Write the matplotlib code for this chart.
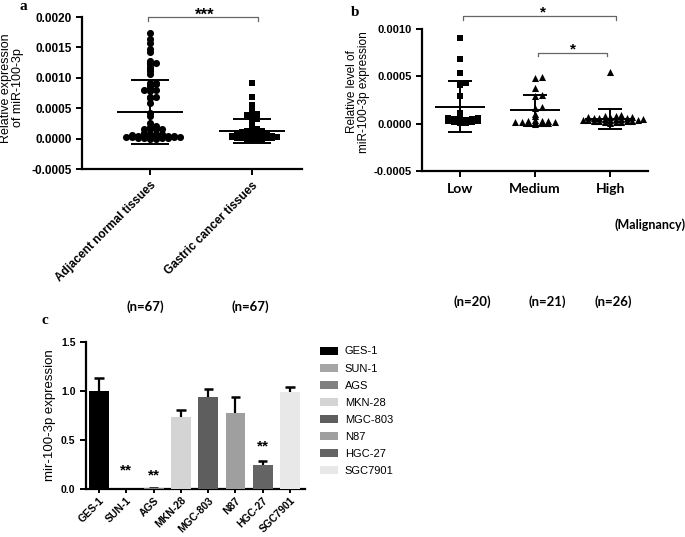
import numpy as np
import matplotlib
matplotlib.use("Agg")
import matplotlib.pyplot as plt
from matplotlib.patches import Patch

plt.rcParams['font.family'] = 'Liberation Sans'

# ---- panel a data ----
a_groups = ['Adjacent normal tissues', 'Gastric cancer tissues']
a_n = ['(n=67)', '(n=67)']
adjacent = [0.00173, 0.00164, 0.00158, 0.00147, 0.00143, 0.00127, 0.00125, 0.00124,
            0.00123, 0.00117, 0.00114, 0.00112, 0.00106, 0.00092, 0.00092, 0.00090,
            0.00090, 0.00086, 0.00084, 0.00080, 0.00080, 0.00079, 0.00069, 0.00068,
            0.00067, 0.00058, 0.00042, 0.00037, 0.00025, 0.00020, 0.00019, 0.00016,
            0.00015, 0.00015, 0.00015,
            0.00009, 0.00008, 0.00008, 0.00007, 0.00007, 0.00006, 0.00006, 0.00006,
            0.00005, 0.00005, 0.00005, 0.00005, 0.00004, 0.00004, 0.00004, 0.00004,
            0.00003, 0.00003, 0.00003, 0.00003, 0.00003, 0.00002, 0.00002, 0.00002,
            0.00002, 0.00002, 0.00001, 0.00001, 0.00001, 0.00001, 0.00000, 0.00000]
gastric = [0.00091, 0.00069, 0.00056, 0.00053, 0.00049, 0.00040, 0.00039, 0.00038,
           0.00038, 0.00037, 0.00033, 0.00033, 0.00030, 0.00027, 0.00025, 0.00020,
           0.00015, 0.00014, 0.00013, 0.00013, 0.00012, 0.00012, 0.00011, 0.00011,
           0.00010, 0.00010, 0.00010, 0.00009, 0.00009, 0.00009, 0.00008, 0.00008,
           0.00008, 0.00007, 0.00007, 0.00007, 0.00006, 0.00006, 0.00006, 0.00006,
           0.00005, 0.00005, 0.00005, 0.00005, 0.00004, 0.00004, 0.00004, 0.00004,
           0.00004, 0.00003, 0.00003, 0.00003, 0.00003, 0.00003, 0.00002, 0.00002,
           0.00002, 0.00002, 0.00002, 0.00001, 0.00001, 0.00001, 0.00001, 0.00000,
           0.00000, 0.00000, 0.00000]
a_mean = [0.00044, 0.00012]
a_sd = [0.00053, 0.00020]

# ---- panel b data ----
b_groups = ['Low', 'Medium', 'High']
b_n = ['(n=20)', '(n=21)', '(n=26)']
low = [0.00090, 0.00068, 0.00053, 0.00043, 0.00041, 0.00029, 0.00011, 0.00007,
       0.00006, 0.00006, 0.00005, 0.00005, 0.00004, 0.00004, 0.00003, 0.00003,
       0.00002, 0.00002, 0.00001, 0.00001]
medium = [0.00049, 0.00048, 0.00038, 0.00030, 0.00029, 0.00018, 0.00017, 0.00010,
          0.00008, 0.00004, 0.00003, 0.00003, 0.00003, 0.00002, 0.00002, 0.00002,
          0.00002, 0.00001, 0.00001, 0.00001, 0.00000]
high = [0.00055, 0.00009, 0.00008, 0.00008, 0.00007, 0.00007, 0.00007, 0.00006,
        0.00006, 0.00006, 0.00005, 0.00005, 0.00005, 0.00005, 0.00004, 0.00004,
        0.00004, 0.00004, 0.00003, 0.00003, 0.00003, 0.00003, 0.00002, 0.00002,
        0.00002, 0.00001]
b_mean = [0.00018, 0.00014, 0.00005]
b_sd = [0.00027, 0.00016, 0.00011]

# ---- panel c data ----
cells = ['GES-1', 'SUN-1', 'AGS', 'MKN-28', 'MGC-803', 'N87', 'HGC-27', 'SGC7901']
expr = [1.00, 0.005, 0.008, 0.73, 0.94, 0.78, 0.25, 0.99]
expr_err = [0.13, 0.0, 0.005, 0.08, 0.08, 0.16, 0.04, 0.05]
cell_colors = ['#000000', '#a6a6a6', '#808080', '#d4d4d4', '#5e5e5e', '#9f9f9f',
               '#646464', '#e8e8e8']
c_stars = {'SUN-1': 0.19, 'AGS': 0.14, 'HGC-27': 0.43}

W, H = 685, 537
fig = plt.figure(figsize=(W / 100, H / 100), dpi=100)


def px_axes(l, t, r, b):
    return fig.add_axes([l / W, 1 - b / H, (r - l) / W, (b - t) / H])


def ftext(x, y, s, **kw):
    fig.text(x / W, 1 - y / H, s, **kw)


def beeswarm(vals, ypx, xpx, dx, dy):
    # horizontal offsets (data units) so that markers do not pile up
    v = np.asarray(vals) * ypx
    offs = np.zeros(len(v))
    placed = []
    cands = [0.0]
    for s in range(1, 300):
        cands += [s * 0.5, -s * 0.5]
    for i in np.argsort(v, kind='stable'):
        for c in cands:
            if all(abs(c - px) >= dx or abs(v[i] - py) >= dy for px, py in placed):
                break
        offs[i] = c
        placed.append((c, v[i]))
    return offs / xpx


def style(ax):
    for s in ['top', 'right']:
        ax.spines[s].set_visible(False)
    for s in ['left', 'bottom']:
        ax.spines[s].set_linewidth(1.6)
    ax.tick_params(width=1.4, length=4, direction='out')


def mean_sd(ax, xs, means, sds, mw, cw):
    xs = np.asarray(xs, float)
    m = np.asarray(means)
    s = np.asarray(sds)
    ax.vlines(xs, m - s, m + s, color='black', lw=1.4, zorder=4)
    ax.hlines(m, xs - mw, xs + mw, color='black', lw=1.4, zorder=4)
    ax.hlines(m + s, xs - cw, xs + cw, color='black', lw=1.4, zorder=4)
    ax.hlines(m - s, xs - cw, xs + cw, color='black', lw=1.4, zorder=4)


# ================= panel a =================
axa = px_axes(82, 17, 302, 169)
style(axa)
ya = 152 / 0.0025
axa.scatter(0 + beeswarm(adjacent, ya, 102, 6.0, 1.0), adjacent, s=26, marker='o',
            color='black', zorder=3, linewidths=0)
axa.scatter(1 + beeswarm(gastric, ya, 102, 5.0, 1.2), gastric, s=20, marker='s',
            color='black', zorder=3, linewidths=0)
mean_sd(axa, [0, 1], a_mean, a_sd, 0.32, 0.19)
axa.set_xlim(-0.667, 1.49)
axa.set_ylim(-0.0005, 0.0020)
axa.set_yticks([-0.0005, 0.0, 0.0005, 0.0010, 0.0015, 0.0020])
axa.set_yticklabels(['-0.0005', '0.0000', '0.0005', '0.0010', '0.0015', '0.0020'],
                    fontsize=8.5, fontweight='bold')
axa.set_xticks([0, 1])
axa.set_xticklabels(a_groups, rotation=45, ha='right', va='top',
                    rotation_mode='anchor', fontsize=8.5, fontweight='bold')
axa.plot([-0.02, -0.02, 1.06, 1.06], [0.00194, 0.0020, 0.0020, 0.00194],
         color='#666666', lw=0.9, clip_on=False)
axa.text(0.54, 0.00196, '***', ha='center', va='baseline', fontsize=12,
         fontweight='bold')
ftext(12, 88, 'Relative expression\nof miR-100-3p', rotation=90, ha='center',
      va='center', fontsize=9, linespacing=1.0)
for x, s in zip([145, 250], a_n):
    ftext(x, 307, s, ha='center', va='center', fontsize=9.5, fontweight='bold',
          family='Lato')
ftext(23, 7, 'a', ha='center', va='center', fontsize=11, fontweight='bold',
      family='Liberation Serif')

# ================= panel b =================
axb = px_axes(422, 29, 648, 171)
style(axb)
yb = 142 / 0.0015
axb.scatter(0 + beeswarm(low, yb, 75, 6.0, 2.5), low, s=20, marker='s',
            color='black', zorder=3, linewidths=0)
axb.scatter(1 + beeswarm(medium, yb, 75, 6.5, 1.5), medium, s=26, marker='^',
            color='black', zorder=3, linewidths=0)
axb.scatter(2 + beeswarm(high, yb, 75, 5.5, 2.0), high, s=26, marker='^',
            color='black', zorder=3, linewidths=0)
mean_sd(axb, [0, 1, 2], b_mean, b_sd, 0.33, 0.16)
axb.set_xlim(-0.5, 2.5)
axb.set_ylim(-0.0005, 0.0010)
axb.set_yticks([-0.0005, 0.0, 0.0005, 0.0010])
axb.set_yticklabels(['-0.0005', '0.0000', '0.0005', '0.0010'], fontsize=8,
                    fontweight='bold')
axb.set_xticks([0, 1, 2])
axb.set_xticklabels(b_groups, fontsize=10, fontweight='bold', family='Lato')
axb.tick_params(axis='x', pad=5)
axb.plot([0.05, 0.05, 2.07, 2.07], [0.0011, 0.001137, 0.001137, 0.0011],
         color='#666666', lw=0.9, clip_on=False)
axb.text(1.1, 0.001137, '*', ha='center', va='baseline', fontsize=11,
         fontweight='bold')
axb.plot([1.04, 1.04, 1.96, 1.96], [0.00071, 0.000746, 0.000746, 0.00071],
         color='#666666', lw=0.9, clip_on=False)
axb.text(1.5, 0.000746, '*', ha='center', va='baseline', fontsize=11,
         fontweight='bold')
ftext(358, 92, 'Relative level of\nmiR-100-3p expression', rotation=90,
      ha='center', va='center', fontsize=8.5, linespacing=1.1)
ftext(650, 225, '(Malignancy)', ha='center', va='center', fontsize=9,
      fontweight='bold', family='Lato')
for x, s in zip([472, 547, 613], b_n):
    ftext(x, 302, s, ha='center', va='center', fontsize=9.5, fontweight='bold',
          family='Lato')
ftext(355, 12, 'b', ha='center', va='center', fontsize=11, fontweight='bold',
      family='Liberation Serif')

# ================= panel c =================
axc = px_axes(86, 342, 305, 489)
style(axc)
xc = np.arange(len(cells))
axc.bar(xc, expr, width=0.73, color=cell_colors, zorder=3)
top = np.asarray(expr) + np.asarray(expr_err)
axc.vlines(xc, expr, top, color='black', lw=1.6, zorder=2)
axc.hlines(top, xc - 0.17, xc + 0.17, color='black', lw=1.8, zorder=2)
for name, y in c_stars.items():
    axc.text(cells.index(name), y, '**', ha='center', va='center', fontsize=11,
             fontweight='bold')
axc.set_xlim(-0.48, 7.55)
axc.set_ylim(0, 1.5)
axc.set_yticks([0.0, 0.5, 1.0, 1.5])
axc.set_yticklabels(['0.0', '0.5', '1.0', '1.5'], fontsize=7.5, fontweight='bold')
axc.set_xticks(xc)
axc.set_xticklabels(cells, rotation=45, ha='right', va='top',
                    rotation_mode='anchor', fontsize=7.5, fontweight='bold')
axc.tick_params(axis='x', length=3, pad=1.5)
ftext(50, 415, 'mir-100-3p expression', rotation=90, ha='center', va='center',
      fontsize=9.5)
ftext(45, 320, 'c', ha='center', va='center', fontsize=11, fontweight='bold',
      family='Liberation Serif')
handles = [Patch(facecolor=c, edgecolor='none') for c in cell_colors]
fig.legend(handles, cells, loc='upper left', bbox_to_anchor=(316 / W, 1 - 342 / H),
           frameon=False, fontsize=8, handlelength=1.6, handleheight=0.75,
           labelspacing=0.64, handletextpad=0.6, borderaxespad=0)

fig.savefig('out.png', dpi=100, facecolor='white')
